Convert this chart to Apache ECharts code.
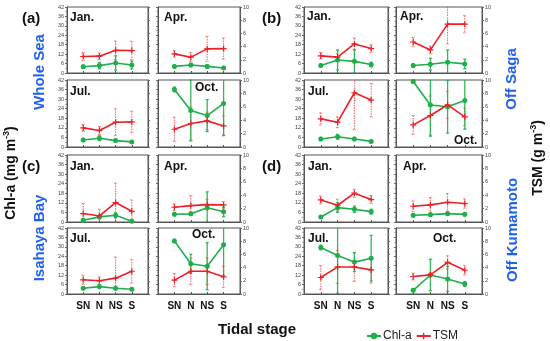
<!DOCTYPE html>
<html><head><meta charset="utf-8">
<script src="https://cdn.jsdelivr.net/npm/echarts@6/dist/echarts.min.js"></script>
<style>html,body{margin:0;padding:0;background:#fff}#c{width:550px;height:341px}</style>
</head><body><div id="c"></div>
<script>
// categories (padded with empty slots on both ends)
const categories = ['', 'SN', 'N', 'NS', 'S', ''];
const months = ['Jan.', 'Apr.', 'Jul.', 'Oct.'];
const leftTicks = [0, 6, 12, 18, 24, 30, 36, 42];
const rightTicks = [0, 2, 4, 6, 8, 10];

// Each array: rows = Jan, Apr, Jul, Oct ; columns = SN, N, NS, S
// (a) Whole Sea
const chlWhole    = [[4.0,4.7,6.4,5.1],[4.2,5.1,4.2,3.2],[4.4,5.5,4.0,3.2],[36.1,22.9,19.7,27.3]];
const chlErrWhole = [[1,2,4.5,2.5],[1,1,1,0.8],[1,1.5,1,0.8],[1.5,19,10,20]];
const tsmWhole    = [[2.5,2.55,3.45,3.4],[2.9,2.4,3.65,3.7],[2.85,2.45,3.7,3.75],[2.65,3.5,3.9,3.15]];
const tsmErrWhole = [[0.6,0.5,1.4,1.4],[0.5,0.7,1.9,1.6],[0.5,0.6,2,1.6],[1.8,2.5,1.3,1.5]];
// (b) Off Saga
const chlSaga     = [[4.8,8.3,7.4,5.4],[4.8,5.6,6.8,5.8],[5.0,6.4,5.0,3.5],[41,26.3,25.2,29.2]];
const chlErrSaga  = [[1,6.4,7.4,1.5],[1,3.8,7.8,3],[1,1.5,1,0.8],[1,19.5,16.5,18]];
const tsmSaga     = [[2.6,2.4,4.4,3.7],[4.7,3.5,7.4,7.4],[4.2,3.7,8.1,7.0],[3.3,4.7,6.3,4.5]];
const tsmErrSaga  = [[0.5,0.5,0.9,0.6],[0.7,0.6,3,1.3],[0.9,0.8,5.5,2.5],[1.4,2.9,2,1.3]];
// (c) Isahaya Bay
const chlIsa      = [[1.1,3.2,4.2,0.4],[4.9,5.1,8.9,6.4],[3.7,4.7,3.7,3.0],[33.8,19.2,17.7,31.4]];
const chlErrIsa   = [[1,1,1.5,0.8],[1,1,10,3],[0.8,1.2,1,0.8],[1,6,15,20]];
const tsmIsa      = [[1.26,0.9,2.9,1.6],[2.2,2.45,2.6,2.55],[2.15,2.0,2.4,3.45],[2.1,3.45,3.45,2.6]];
const tsmErrIsa   = [[1.5,1,2.9,1.7],[0.5,1.5,0.8,0.5],[0.7,0.6,3.2,1.8],[1,2,2,1.6]];
// (d) Off Kumamoto
const chlKum      = [[3.15,9.0,8.0,6.5],[4.2,4.6,5.25,4.8],[29.6,24.5,20.3,22.8],[2.35,12.1,9.6,6.4]];
const chlErrKum   = [[0.8,3,2,1.5],[1,1,1,1],[1.5,24,6,14.5],[0.8,10,8,1.5]];
const tsmKum      = [[3.3,2.5,4.3,3.35],[2.35,2.55,2.95,2.75],[2.5,4.1,4.1,3.65],[2.65,2.9,4.8,3.6]];
const tsmErrKum   = [[0.6,0.9,0.6,0.6],[0.8,1.1,1.3,0.7],[1.8,2.5,2.2,2.0],[0.5,0.3,1.0,0.7]];

const GREEN = '#1fae4b', RED = '#ee1f25', BLUE = '#2060f0';
const FONT = 'Liberation Sans, Arial, sans-serif';

// layout
const colX = [[67,148],[158,240],[304,388],[396,482]];
const rowY = [[7,73],[80,147],[155,222],[228,294]];
const panels = [
  {chl: chlWhole, chlE: chlErrWhole, tsm: tsmWhole, tsmE: tsmErrWhole, r: 0, c: 0},
  {chl: chlSaga,  chlE: chlErrSaga,  tsm: tsmSaga,  tsmE: tsmErrSaga,  r: 0, c: 2},
  {chl: chlIsa,   chlE: chlErrIsa,   tsm: tsmIsa,   tsmE: tsmErrIsa,   r: 2, c: 0},
  {chl: chlKum,   chlE: chlErrKum,   tsm: tsmKum,   tsmE: tsmErrKum,   r: 2, c: 2}
];

const grids = [], xAxes = [], yAxes = [], lineSeries = [], errSeries = [];
const monthPos = [[0,0],[0,1],[1,0],[1,1]];

function errRender(color, dashed, width) {
  return function (params, api) {
    const x = api.value(0), v = api.value(1), e = api.value(2);
    const p1 = api.coord([x, v + e]), p2 = api.coord([x, v - e]);
    const cs = params.coordSys;
    const y1 = Math.max(cs.y, p1[1]), y2 = Math.min(cs.y + cs.height, p2[1]);
    const style = {stroke: color, lineWidth: width, fill: null};
    if (dashed) style.lineDash = [1.5, 1];
    const ch = [{type: 'line', shape: {x1: p1[0], y1: y1, x2: p1[0], y2: y2}, style: style}];
    if (p1[1] >= cs.y) ch.push({type: 'line', shape: {x1: p1[0]-1.5, y1: y1, x2: p1[0]+1.5, y2: y1}, style: style});
    if (p2[1] <= cs.y + cs.height) ch.push({type: 'line', shape: {x1: p2[0]-1.5, y1: y2, x2: p2[0]+1.5, y2: y2}, style: style});
    return {type: 'group', children: ch};
  };
}

const PLUS = 'path://M4,0H6V4H10V6H6V10H4V6H0V4H4Z';

panels.forEach(p => {
  months.forEach((m, mi) => {
    const rr = p.r + monthPos[mi][0], cc = p.c + monthPos[mi][1];
    const gi = grids.length;
    grids.push({left: colX[cc][0], top: rowY[rr][0], width: colX[cc][1]-colX[cc][0],
      height: rowY[rr][1]-rowY[rr][0], show: true, borderColor: '#555', borderWidth: 1, containLabel: false});
    xAxes.push({type: 'category', gridIndex: gi, data: categories, boundaryGap: false,
      axisLine: {lineStyle: {color: '#555'}},
      axisTick: {show: true, inside: true, length: 2, interval: 0, lineStyle: {color: '#555'}},
      axisLabel: {show: rr === 3, interval: 0, fontSize: 10, fontWeight: 'bold', color: '#111', margin: 7, fontFamily: FONT},
      splitLine: {show: false}});
    const showLeft = (cc === 0 || cc === 2), showRight = (cc === 1 || cc === 3);
    yAxes.push({type: 'value', gridIndex: gi, position: 'left', min: 0, max: 42, interval: 6,
      axisLine: {show: true, lineStyle: {color: '#555'}},
      axisTick: {show: true, length: 2, lineStyle: {color: '#666'}},
      minorTick: {show: true, splitNumber: 2, length: 1.5, lineStyle: {color: '#888'}},
      axisLabel: {show: showLeft, fontSize: 5.5, color: '#444', margin: 3, fontFamily: FONT},
      splitLine: {show: false}});
    yAxes.push({type: 'value', gridIndex: gi, position: 'right', min: 0, max: 10, interval: 2,
      axisLine: {show: true, lineStyle: {color: '#555'}},
      axisTick: {show: true, length: 2, lineStyle: {color: '#666'}},
      minorTick: {show: true, splitNumber: 2, length: 1.5, lineStyle: {color: '#888'}},
      axisLabel: {show: showRight, fontSize: 5.5, color: '#444', margin: 3, fontFamily: FONT},
      splitLine: {show: false}});
    const yl = yAxes.length - 2, yr = yAxes.length - 1;
    const chlData = p.chl[mi].map((v, k) => [k + 1, v]);
    const tsmData = p.tsm[mi].map((v, k) => [k + 1, v]);
    const chlErr = p.chl[mi].map((v, k) => [k + 1, v, p.chlE[mi][k]]);
    const tsmErr = p.tsm[mi].map((v, k) => [k + 1, v, p.tsmE[mi][k]]);
    errSeries.push({type: 'custom', name: 'TSM', xAxisIndex: gi, yAxisIndex: yr, data: tsmErr,
      renderItem: errRender('rgba(240,70,70,0.85)', true, 1), encode: {x: 0, y: 1}, z: 1, silent: true});
    errSeries.push({type: 'custom', name: 'Chl-a', xAxisIndex: gi, yAxisIndex: yl, data: chlErr,
      renderItem: errRender('rgba(31,174,75,0.9)', false, 1.3), encode: {x: 0, y: 1}, z: 2, silent: true});
    lineSeries.push({type: 'line', name: 'Chl-a', xAxisIndex: gi, yAxisIndex: yl, data: chlData,
      symbol: 'circle', symbolSize: 5, color: GREEN, lineStyle: {color: GREEN, width: 1.6},
      itemStyle: {color: GREEN}, z: 3});
    lineSeries.push({type: 'line', name: 'TSM', xAxisIndex: gi, yAxisIndex: yr, data: tsmData,
      symbol: PLUS, symbolSize: 6, color: RED, lineStyle: {color: RED, width: 1.6},
      itemStyle: {color: RED}, z: 4});
  });
});
const series = lineSeries.concat(errSeries);

function txt(x, y, text, size, color, opts) {
  return Object.assign({type: 'text', x: x, y: y, z: 100,
    style: {text: text, font: 'bold ' + size + 'px ' + FONT, fill: color, align: 'left', verticalAlign: 'middle'}}, opts || {});
}
function vtxt(x, y, text, size, color) {
  return {type: 'text', x: x, y: y, rotation: Math.PI / 2, z: 100,
    style: {text: text, font: 'bold ' + size + 'px ' + FONT, fill: color, align: 'center', verticalAlign: 'middle'}};
}

const graphics = [
  txt(22, 19, '(a)', 15, '#111'), txt(262, 19, '(b)', 15, '#111'),
  txt(22, 167, '(c)', 15, '#111'), txt(262, 167, '(d)', 15, '#111'),
  vtxt(40, 72, 'Whole Sea', 15, BLUE), vtxt(512, 79, 'Off Saga', 15, BLUE),
  vtxt(40, 238, 'Isahaya Bay', 15, BLUE), vtxt(513, 230, 'Off Kumamoto', 15, BLUE),
  {type: 'text', x: 10, y: 173, rotation: Math.PI / 2, z: 100,
    style: {text: '{a|Chl-a (mg m}{s|-3}{a|)}', align: 'center', verticalAlign: 'middle',
      rich: {a: {font: 'bold 14px ' + FONT, fill: '#111', lineHeight: 16, verticalAlign: 'bottom'},
             s: {font: 'bold 9px ' + FONT, fill: '#111', lineHeight: 16, verticalAlign: 'top'}}}},
  {type: 'text', x: 537, y: 158, rotation: Math.PI / 2, z: 100,
    style: {text: '{a|TSM (g m}{s|-3}{a|)}', align: 'center', verticalAlign: 'middle',
      rich: {a: {font: 'bold 14px ' + FONT, fill: '#111', lineHeight: 16, verticalAlign: 'bottom'},
             s: {font: 'bold 9px ' + FONT, fill: '#111', lineHeight: 16, verticalAlign: 'top'}}}},
  txt(257, 330, 'Tidal stage', 15, '#111', {}),
  // month labels
  txt(70, 18, 'Jan.', 12, '#111'), txt(164, 18, 'Apr.', 12, '#111'),
  txt(70, 92, 'Jul.', 12, '#111'), txt(195, 88, 'Oct.', 12, '#111'),
  txt(307, 17, 'Jan.', 12, '#111'), txt(400, 17, 'Apr.', 12, '#111'),
  txt(308, 92, 'Jul.', 12, '#111'), txt(454, 141, 'Oct.', 12, '#111'),
  txt(70, 167, 'Jan.', 12, '#111'), txt(164, 167, 'Apr.', 12, '#111'),
  txt(70, 239, 'Jul.', 12, '#111'), txt(192, 235, 'Oct.', 12, '#111'),
  txt(308, 167, 'Jan.', 12, '#111'), txt(403, 167, 'Apr.', 12, '#111'),
  txt(308, 239, 'Jul.', 12, '#111'), txt(433, 239, 'Oct.', 12, '#111')
];
graphics[10].style.align = 'center';

const chart = echarts.init(document.getElementById('c'), null, {renderer: 'canvas'});
chart.setOption({
  animation: false,
  backgroundColor: '#fff',
  grid: grids, xAxis: xAxes, yAxis: yAxes, series: series,
  legend: {data: ['Chl-a', 'TSM'], left: 361, top: 325, itemWidth: 14, itemHeight: 8, itemGap: 4,
    textStyle: {fontSize: 12, color: '#222', fontFamily: FONT, padding: [0, 0, 0, -3]}},
  graphic: graphics
});
</script></body></html>
